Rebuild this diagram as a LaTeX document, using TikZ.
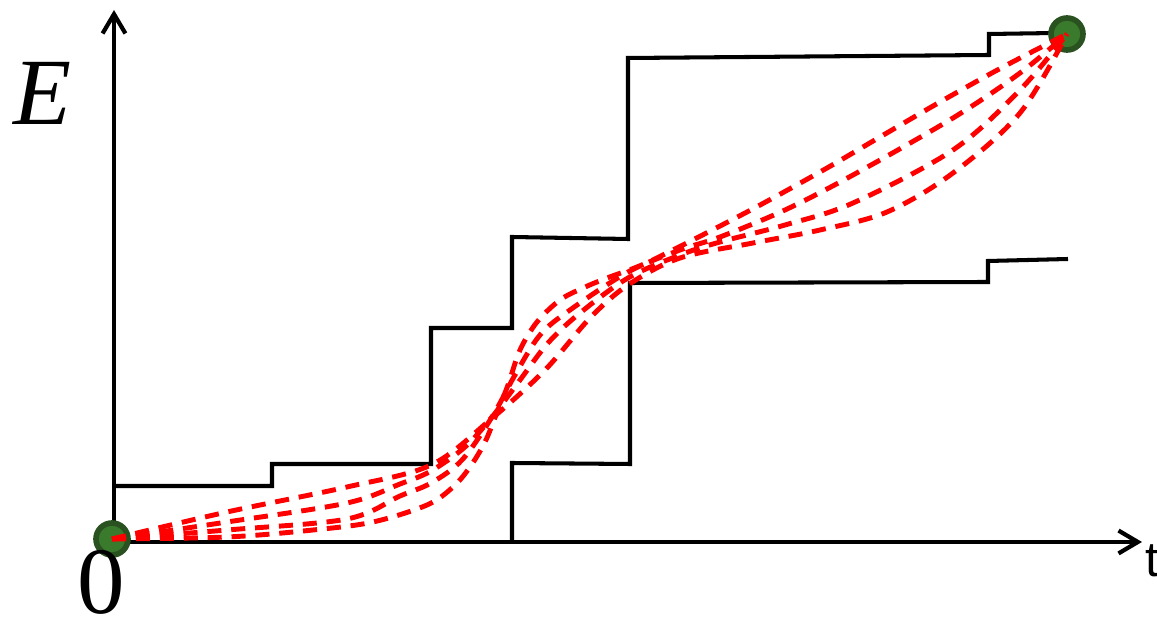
\documentclass[tikz,border=0pt]{standalone}
\usepackage{fontspec}
\setmainfont{Liberation Serif}
\setsansfont{Liberation Sans}
\usetikzlibrary{arrows.meta}
\definecolor{dotfill}{HTML}{3A7A2C}
\definecolor{dotrim}{HTML}{2A5220}
\definecolor{trajred}{HTML}{FF0000}

\begin{document}
\begin{tikzpicture}[
    x=0.01cm, y=-0.01cm,
    axis/.style={line width=1.2pt, -{Straight Barb[length=5.5pt, width=6.5pt, line width=1.2pt]}},
    stair/.style={line width=1.15pt, line join=miter},
    traj/.style={trajred, line width=1.4pt, dash pattern=on 4pt off 2.8pt, smooth, tension=0.55},
    state/.style={circle, fill=dotfill, draw=dotrim, line width=1.6pt, minimum size=0.32cm, inner sep=0pt},
    lbl/.style={font=\fontsize{27}{30}\selectfont, inner sep=0pt},
    itlbl/.style={font=\fontsize{27}{30}\selectfont\itshape, inner sep=0pt}
]
  \useasboundingbox (0,0) rectangle (1157,628);

  \coordinate (origin) at (114,542);
  \coordinate (ytip) at (114,10);
  \coordinate (xtip) at (1142,542);

  \draw[axis] (origin) -- (ytip);
  \draw[axis] (origin) -- (xtip);

  \draw[stair] (114,486) -- (272,486) -- (272,464) -- (431,464) -- (431,328) -- (512,328)
    -- (512,237) -- (628,239) -- (628,58) -- (989,55) -- (989,34) -- (1055,33);
  \draw[stair] (512,542) -- (512,463) -- (630,464) -- (630,283) -- (988,282) -- (988,261) -- (1068,259);

  \node[state] (start) at (112,539) {};
  \node[state] (finish) at (1067,34) {};

  \draw[traj] plot coordinates {(start.center) (227,512) (347,487) (431,465) (490,420) (545,370)
    (590,318) (628,285) (680,258) (753,243) (820,230) (887,212) (953,173) (1020,113) (finish.center)};
  \draw[traj] plot coordinates {(start.center) (227,522) (347,503) (400,484) (431,471) (465,447)
    (492,417) (520,380) (548,343) (580,313) (628,278) (680,255) (720,242) (785,225) (853,203)
    (953,150) (1020,90) (finish.center)};
  \draw[traj] plot coordinates {(start.center) (227,530) (347,519) (400,496) (431,483) (462,460)
    (492,417) (515,375) (540,335) (570,310) (628,272) (680,250) (720,237) (785,210) (853,175)
    (953,118) (1020,73) (finish.center)};
  \draw[traj] plot coordinates {(start.center) (227,537) (313,530) (373,522) (427,505) (453,487)
    (470,467) (485,442) (496,415) (508,385) (520,350) (537,322) (560,300) (583,288) (607,278)
    (637,267) (665,254) (747,212) (820,172) (880,137) (940,102) (1003,67) (finish.center)};

  \node[itlbl, anchor=base] (ylabel) at (42,125) {E};
  \node[lbl, anchor=base] (zero) at (101,614) {0};
  \node[font=\sffamily\fontsize{14}{16}\selectfont, anchor=base west, inner sep=0pt] (tlabel) at (1145,577) {t};
\end{tikzpicture}
\end{document}
